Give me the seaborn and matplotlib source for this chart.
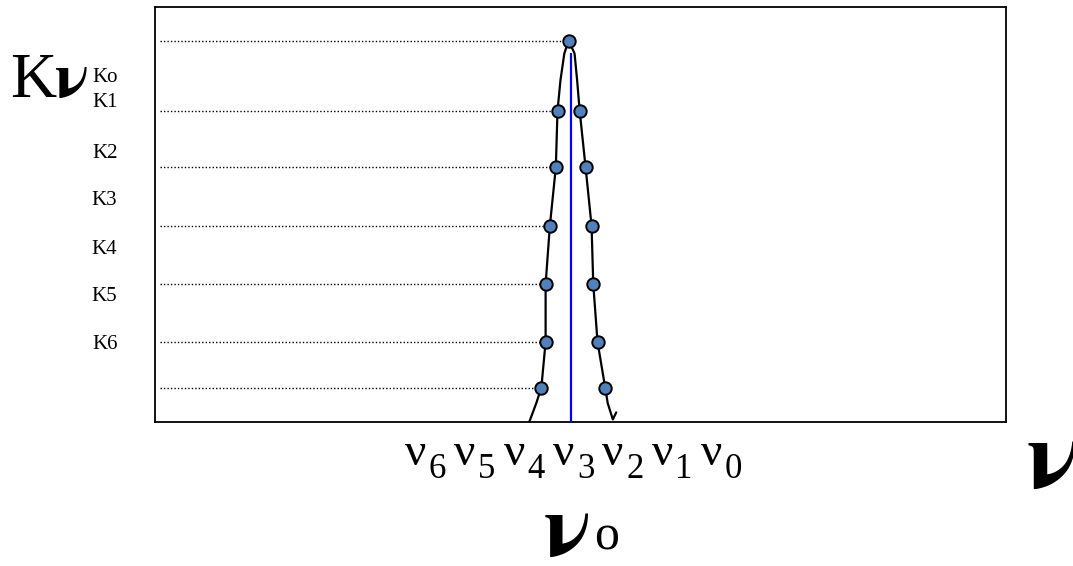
import pandas as pd
import matplotlib
matplotlib.use("Agg")
import matplotlib.pyplot as plt
import seaborn as sns

# heights of the sampled levels K0..K6 (percent of plot height)
levels = [91.9, 75.0, 61.3, 47.2, 33.1, 19.2, 8.2]
# frequency of the points on the low / high flank of the line
left_nu = [48.6, 47.3, 47.1, 46.4, 45.9, 45.9, 45.4]
right_nu = [49.9, 50.6, 51.3, 51.5, 52.0, 52.9]

# line profile
curve_x = [44.0, 44.8, 45.4, 45.9, 45.9, 46.4, 47.1, 47.3, 47.65, 48.1, 48.6,
           49.3, 49.6, 49.9, 50.6, 51.3, 51.5, 52.0, 52.9, 53.2, 53.8, 54.2]
curve_y = [0.0, 4.4, 8.2, 19.2, 33.1, 47.2, 61.3, 75.0, 82.4, 88.8, 91.9,
           88.8, 82.4, 75.0, 61.3, 47.2, 33.1, 19.2, 8.2, 4.4, 0.5, 2.2]

# line centre
center_nu = 48.9
center_top = 88.9

# level labels on the left
k_labels = ["Ko", "K1", "K2", "K3", "K4", "K5", "K6"]
k_label_y = [83.6, 77.5, 65.2, 53.9, 42.0, 30.7, 19.1]

# frequency labels under the axis
nu_subs = ["6", "5", "4", "3", "2", "1", "0"]

sns.set_style("white")
plt.rcParams["font.family"] = ["Liberation Serif", "DejaVu Serif"]
for key in ["text.color", "axes.labelcolor", "xtick.color", "ytick.color"]:
    plt.rcParams[key] = "black"

W, H = 1073, 566
fig = plt.figure(figsize=(W / 100, H / 100), dpi=100)
ax = fig.add_axes([155 / W, 1 - 421.5 / H, (1006 - 155) / W, (421.5 - 7) / H])

# dotted guides from the axis to each left point
ax.hlines(levels, 0.6, left_nu, colors="black", linestyles=(0, (1, 1.5)),
          lw=1.0, zorder=1)

# line profile
sns.lineplot(x=curve_x, y=curve_y, sort=False, estimator=None, color="black",
             lw=1.6, ax=ax, zorder=2)

# centre line
ax.vlines(center_nu, 0, center_top, colors="#0000ff", lw=1.6, zorder=3)

pts = pd.DataFrame({
    "nu": left_nu + right_nu,
    "k": levels + levels[1:],
})
sns.scatterplot(data=pts, x="nu", y="k", s=80, color="#4f81bd",
                edgecolor="black", linewidth=1.4, ax=ax, zorder=4, clip_on=False)

ax.set_xlim(0, 100)
ax.set_ylim(0, 100)
ax.set_xticks([])
ax.set_yticks(k_label_y, k_labels)
ax.tick_params(axis="y", length=0, pad=27, labelsize=15)
ax.set_xlabel("")
ax.set_ylabel("")
for s in ax.spines.values():
    s.set_visible(True)
    s.set_color("black")
    s.set_linewidth(1.3)


def fx(px):
    return px / W


def fy(py):
    return 1 - py / H


big_nu = dict(family=["STIXGeneral", "DejaVu Serif"], weight="bold",
              ha="left", va="baseline")

# nu labels under the axis
for i, sub in enumerate(nu_subs):
    x0 = 405 + i * 49.3
    fig.text(fx(x0), fy(465), "ν", fontsize=34, ha="left", va="baseline")
    fig.text(fx(x0 + 24), fy(478), sub, fontsize=25, ha="left", va="baseline")

# Kν at top left
fig.text(fx(10), fy(97), "K", fontsize=46, ha="left", va="baseline")
fig.text(fx(54), fy(97), "ν", fontsize=46, **big_nu)

# νo at bottom
fig.text(fx(544), fy(556), "ν", fontsize=64, **big_nu)
fig.text(fx(594), fy(550), "o", fontsize=36, ha="left", va="baseline")

# big ν at right edge
fig.text(fx(1026), fy(488), "ν", fontsize=70, **big_nu)

fig.savefig("out.png", dpi=100, facecolor="white")
